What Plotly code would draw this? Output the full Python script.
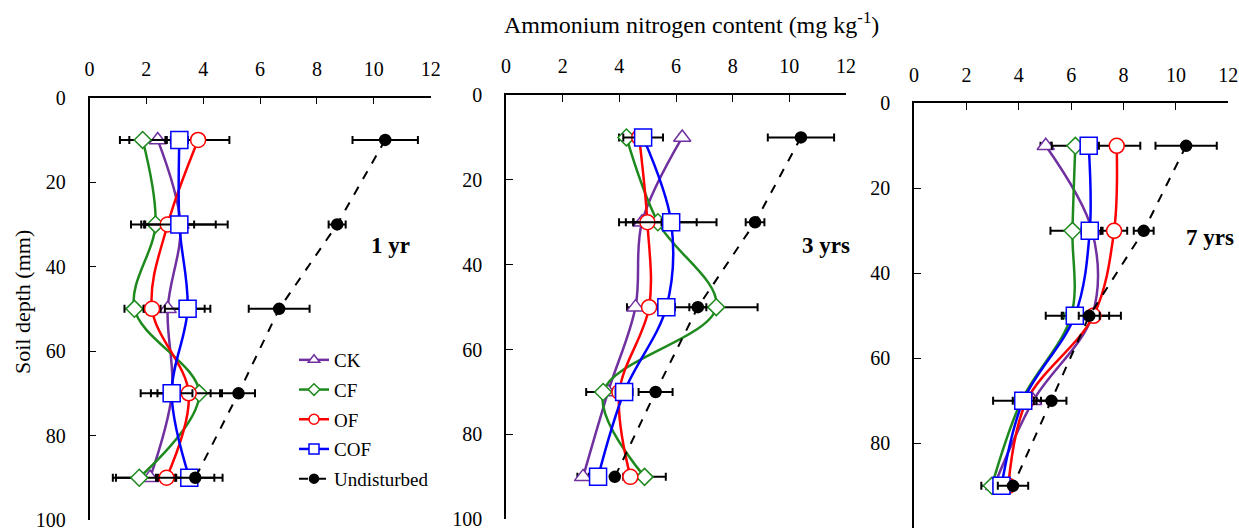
import plotly.graph_objects as go

depth = [10, 30, 50, 70, 90]
series_names = ["CK", "CF", "OF", "COF", "Undisturbed"]

# Panel 1 (1 yr)
p1_CK = [2.40, 3.20, 2.75, 2.90, 2.13]
p1_CF = [1.87, 2.32, 1.58, 3.86, 1.75]
p1_OF = [3.82, 2.75, 2.20, 3.49, 2.71]
p1_COF = [3.16, 3.16, 3.45, 2.89, 3.51]
p1_U = [10.40, 8.71, 6.67, 5.24, 3.72]
p1_CK_err = [1.00, 1.24, 1.30, 1.10, 1.20]
p1_CF_err = [0.80, 0.40, 0.35, 0.40, 0.93]
p1_OF_err = [1.10, 0.93, 0.30, 1.10, 0.30]
p1_COF_err = [0.30, 1.70, 0.80, 0.73, 1.17]
p1_U_err = [1.15, 0.30, 1.07, 0.58, 0.67]

# Panel 2 (3 yrs)
p2_CK = [6.22, 4.80, 4.57, 3.60, 2.72]
p2_CF = [4.25, 5.36, 7.42, 3.43, 4.89]
p2_OF = [4.70, 4.99, 5.05, 4.00, 4.39]
p2_COF = [4.84, 5.83, 5.66, 4.17, 3.25]
p2_U = [10.41, 8.79, 6.77, 5.28, 3.84]
p2_CK_err = [0.10, 0.30, 0.30, 0.30, 0.20]
p2_CF_err = [0.26, 1.37, 1.46, 0.60, 0.75]
p2_OF_err = [0.20, 0.50, 0.20, 0.20, 0.20]
p2_COF_err = [0.70, 1.60, 0.30, 0.30, 0.20]
p2_U_err = [1.17, 0.33, 0.30, 0.60, 0.10]

# Panel 3 (7 yrs)
p3_CK = [5.03, 6.80, 6.80, 4.55, 3.06]
p3_CF = [6.16, 6.05, 6.00, 4.10, 2.97]
p3_OF = [7.74, 7.64, 6.85, 4.30, 3.60]
p3_COF = [6.67, 6.71, 6.14, 4.17, 3.34]
p3_U = [10.39, 8.77, 6.69, 5.25, 3.78]
p3_CK_err = [0.20, 0.40, 1.10, 0.30, 0.20]
p3_CF_err = [0.90, 0.84, 0.97, 1.08, 0.40]
p3_OF_err = [0.90, 0.50, 0.60, 0.30, 0.20]
p3_COF_err = [0.30, 0.30, 0.50, 0.40, 0.30]
p3_U_err = [1.17, 0.38, 0.40, 0.57, 0.58]

x_ticks = [0, 2, 4, 6, 8, 10, 12]
y_ticks = [0, 20, 40, 60, 80, 100]
panel_labels = ["1 yr", "3 yrs", "7 yrs"]

panels = [
    [p1_CK, p1_CF, p1_OF, p1_COF, p1_U],
    [p2_CK, p2_CF, p2_OF, p2_COF, p2_U],
    [p3_CK, p3_CF, p3_OF, p3_COF, p3_U],
]
errors = [
    [p1_CK_err, p1_CF_err, p1_OF_err, p1_COF_err, p1_U_err],
    [p2_CK_err, p2_CF_err, p2_OF_err, p2_COF_err, p2_U_err],
    [p3_CK_err, p3_CF_err, p3_OF_err, p3_COF_err, p3_U_err],
]

colors = ["#7030A0", "#1E8A1E", "#FF0000", "#0000FF", "#000000"]
symbols = ["triangle-up", "diamond", "circle", "square", "circle"]
msizes = [15, 13, 15, 17, 11]
leg_sizes = [10, 9, 10, 10, 9]
FONT = "Liberation Serif"

fig = go.Figure()
for p in range(3):
    xa = "x" if p == 0 else f"x{p+1}"
    ya = "y" if p == 0 else f"y{p+1}"
    for i, name in enumerate(series_names):
        und = name == "Undisturbed"
        fig.add_trace(go.Scatter(
            x=panels[p][i], y=depth, xaxis=xa, yaxis=ya,
            name=name, legendgroup=name, showlegend=False,
            mode="lines+markers",
            line=dict(color=colors[i], width=2 if und else 2.5,
                      dash="dash" if und else "solid",
                      shape="linear" if und else "spline", smoothing=1),
            marker=dict(symbol=symbols[i], size=msizes[i],
                        color=colors[i] if und else "white",
                        line=dict(color=colors[i], width=1.5)),
            error_x=dict(type="data", array=errors[p][i], color="black",
                         thickness=2, width=4),
            cliponaxis=False,
        ))

# legend-only entries with small markers
for i, name in enumerate(series_names):
    und = name == "Undisturbed"
    fig.add_trace(go.Scatter(
        x=[None], y=[None], xaxis="x", yaxis="y",
        name=name, legendgroup=name, showlegend=True, mode="lines+markers",
        line=dict(color=colors[i], width=2 if und else 2.5,
                  dash="dash" if und else "solid"),
        marker=dict(symbol=symbols[i], size=leg_sizes[i],
                    color=colors[i] if und else "white",
                    line=dict(color=colors[i], width=1.5)),
    ))

W, H = 1239, 532
doms = [
    ((89.5, 430.7), (97.7, 520)),
    ((506, 846), (95, 519.3)),
    ((914, 1228.3), (103.3, 528.3)),
]
layout = dict(
    width=W, height=H, paper_bgcolor="white", plot_bgcolor="white",
    margin=dict(l=0, r=0, t=0, b=0, autoexpand=False),
    font=dict(family=FONT, size=20, color="black"),
    legend=dict(x=294 / W, y=1 - 341 / H, xanchor="left", yanchor="top",
                bgcolor="rgba(0,0,0,0)", tracegroupgap=2,
                font=dict(family=FONT, size=19), itemsizing="trace"),
)
for p, ((x0, x1), (y0, y1)) in enumerate(doms):
    sfx = "" if p == 0 else str(p + 1)
    layout["xaxis" + sfx] = dict(
        domain=[x0 / W, x1 / W], anchor="y" + sfx, side="top",
        range=[0, 12], tickvals=x_ticks, ticks="inside", ticklen=7,
        tickwidth=1, tickcolor="black", ticklabelstandoff=12,
        showline=True, linecolor="black", linewidth=1.5, showgrid=False,
        zeroline=False, tickfont=dict(family=FONT, size=20),
        automargin=False,
    )
    layout["yaxis" + sfx] = dict(
        domain=[1 - y1 / H, 1 - y0 / H], anchor="x" + sfx,
        range=[100, 0], tickvals=y_ticks, ticks="inside", ticklen=7,
        tickwidth=1, tickcolor="black", ticklabelstandoff=18,
        showline=True, linecolor="black", linewidth=1.5, showgrid=False,
        zeroline=False, tickfont=dict(family=FONT, size=20),
        automargin=False,
    )
fig.update_layout(**layout)

ann_pos = [(10.6, 35), (11.3, 35.5), (11.3, 31.5)]
for p in range(3):
    sfx = "" if p == 0 else str(p + 1)
    fig.add_annotation(x=ann_pos[p][0], y=ann_pos[p][1], xref="x" + sfx, yref="y" + sfx,
                       xanchor="center", yanchor="middle",
                       text="<b>" + panel_labels[p] + "</b>", showarrow=False,
                       font=dict(family=FONT, size=23, color="black"))

fig.add_annotation(x=691 / W, y=1 - 23 / H, xref="paper", yref="paper",
                   xanchor="center", yanchor="middle",
                   text="Ammonium nitrogen content (mg kg<sup>-1</sup>)", showarrow=False,
                   font=dict(family=FONT, size=24))
fig.add_annotation(x=22 / W, y=1 - 302 / H, xref="paper", yref="paper",
                   xanchor="center", yanchor="middle",
                   text="Soil depth (mm)", textangle=-90, showarrow=False,
                   font=dict(family=FONT, size=22))

post = (
    "document.documentElement.style.overflow='hidden';"
    "document.body.style.margin='0px';"
    "document.body.style.overflow='hidden';"
)
fig.write_html("out.html", post_script=post, config={"displayModeBar": False})
